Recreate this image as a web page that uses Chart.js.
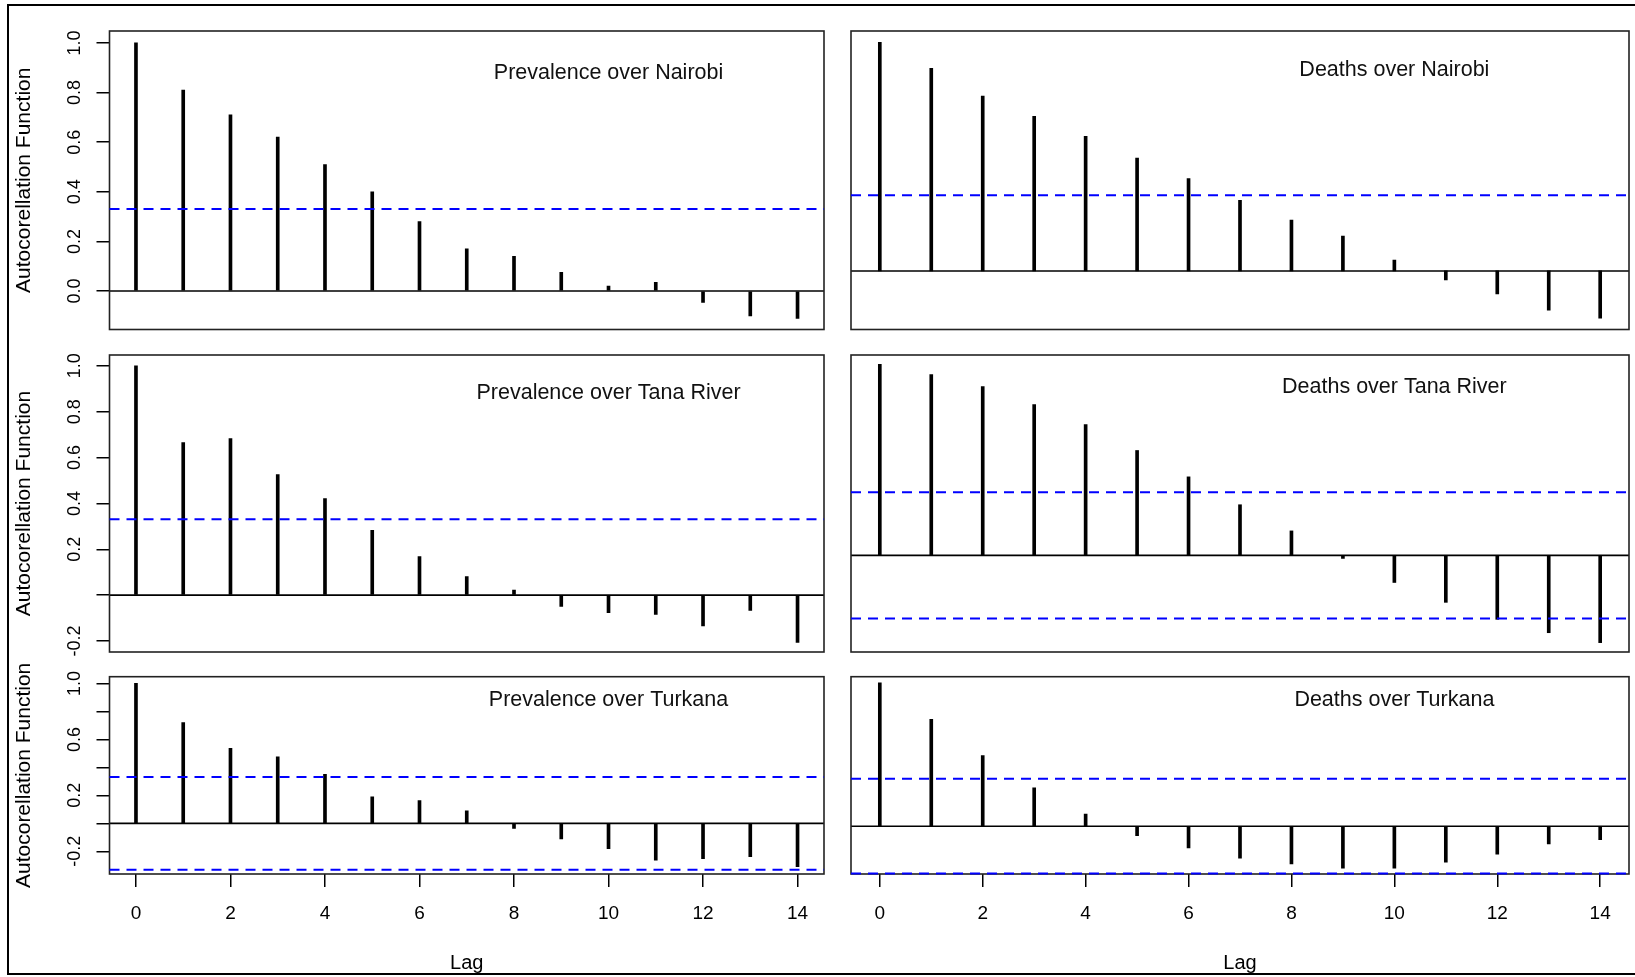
<!DOCTYPE html>
<html>
<head>
<meta charset="utf-8">
<title>ACF of prevalence and deaths</title>
<script src="https://cdn.jsdelivr.net/npm/chart.js@4.4.1/dist/chart.umd.min.js"></script>
<style>
  body { margin: 0; background: #fff; }
  #page { position: relative; width: 1635px; height: 977px; overflow: hidden; background: #fff; }
  #frame { position: absolute; left: 7px; top: 4px; width: 1700px; height: 967px; border: 2px solid #000; border-right: none; }
  canvas { position: absolute; }
</style>
</head>
<body>
<div id="page">
  <div id="frame"></div>
  <canvas id="prevNairobi" width="830" height="340" style="left:0;top:0"></canvas>
  <canvas id="deathsNairobi" width="805" height="340" style="left:830px;top:0"></canvas>
  <canvas id="prevTana" width="830" height="325" style="left:0;top:335px"></canvas>
  <canvas id="deathsTana" width="805" height="325" style="left:830px;top:335px"></canvas>
  <canvas id="prevTurkana" width="830" height="325" style="left:0;top:652px"></canvas>
  <canvas id="deathsTurkana" width="805" height="325" style="left:830px;top:652px"></canvas>
</div>
<script>
// lags and autocorrelations
const lags = [0, 1, 2, 3, 4, 5, 6, 7, 8, 9, 10, 11, 12, 13, 14];
const lagTicks = [0, 2, 4, 6, 8, 10, 12, 14];

const prevalenceNairobi = [1.0, 0.81, 0.71, 0.62, 0.51, 0.40, 0.28, 0.17, 0.14, 0.075, 0.02, 0.035, -0.046, -0.10, -0.11];
const deathsNairobi = [1.0, 0.886, 0.764, 0.676, 0.589, 0.493, 0.404, 0.309, 0.222, 0.152, 0.047, -0.039, -0.10, -0.171, -0.206];
const prevalenceTana = [1.0, 0.665, 0.683, 0.526, 0.421, 0.282, 0.168, 0.081, 0.022, -0.049, -0.076, -0.084, -0.134, -0.067, -0.206];
const deathsTana = [1.0, 0.947, 0.884, 0.789, 0.685, 0.549, 0.411, 0.265, 0.128, -0.016, -0.142, -0.246, -0.335, -0.405, -0.457];
const prevalenceTurkana = [1.0, 0.721, 0.536, 0.476, 0.35, 0.19, 0.162, 0.09, -0.036, -0.112, -0.181, -0.264, -0.252, -0.238, -0.31];
const deathsTurkana = [1.0, 0.745, 0.492, 0.267, 0.084, -0.066, -0.152, -0.222, -0.262, -0.293, -0.293, -0.251, -0.194, -0.124, -0.094];

// 95% band (1.96 / sqrt(n))
const ciLimit = 0.331;

const yTicksTop = [0, 0.2, 0.4, 0.6, 0.8, 1.0];
const yLabelsTop = ['0.0', '0.2', '0.4', '0.6', '0.8', '1.0'];
const yTicksMid = [-0.2, 0, 0.2, 0.4, 0.6, 0.8, 1.0];
const yLabelsMid = ['-0.2', '', '0.2', '0.4', '0.6', '0.8', '1.0'];
const yTicksBottom = [-0.2, 0, 0.2, 0.4, 0.6, 0.8, 1.0];
const yLabelsBottom = ['-0.2', '', '0.2', '', '0.6', '', '1.0'];

const FONT = "'Liberation Sans', Arial, sans-serif";
const titleLag = 10;
const titleLevel = 0.88;

// zero line, box, confidence band and the panel caption
const acfDecor = {
  id: 'acfDecor',
  afterDatasetsDraw(chart, args, opts) {
    const { ctx, chartArea: a, scales: { x, y } } = chart;
    ctx.save();
    ctx.strokeStyle = '#000';
    ctx.lineWidth = 1.6;
    const y0 = y.getPixelForValue(0);
    ctx.beginPath();
    ctx.moveTo(a.left, y0);
    ctx.lineTo(a.right, y0);
    ctx.stroke();

    ctx.strokeStyle = '#222';
    ctx.lineWidth = 1.6;
    ctx.strokeRect(a.left, a.top, a.right - a.left, a.bottom - a.top);

    ctx.strokeStyle = '#0000ff';
    ctx.lineWidth = 2;
    ctx.setLineDash([10, 7]);
    [opts.ci, -opts.ci].forEach(c => {
      if (c < y.min || c > y.max) return;
      const yc = Math.min(y.getPixelForValue(c), a.bottom - 0.5);
      ctx.beginPath();
      ctx.moveTo(a.left, yc);
      ctx.lineTo(a.right, yc);
      ctx.stroke();
    });
    ctx.setLineDash([]);

    ctx.fillStyle = '#111';
    ctx.font = '21.5px ' + FONT;
    ctx.textAlign = 'center';
    ctx.textBaseline = 'middle';
    ctx.fillText(opts.title, x.getPixelForValue(titleLag), y.getPixelForValue(titleLevel));
    ctx.restore();
  }
};

function makePanel(p) {
  const axisGrid = { offset: false, drawOnChartArea: false, drawTicks: true, tickLength: 13, color: '#000', lineWidth: 1.5 };
  new Chart(document.getElementById(p.id), {
    type: 'bar',
    data: {
      datasets: [{
        data: p.acf.map((v, i) => ({ x: lags[i], y: v })),
        backgroundColor: '#000',
        barThickness: 3,
      }],
    },
    options: {
      responsive: false,
      animation: false,
      devicePixelRatio: 1,
      layout: { padding: p.padding },
      plugins: {
        legend: { display: false },
        tooltip: { enabled: false },
        acfDecor: { title: p.title, ci: ciLimit },
      },
      scales: {
        x: {
          type: 'linear',
          min: -0.56,
          max: 14.56,
          offset: false,
          display: p.xAxis,
          afterBuildTicks: s => { s.ticks = lagTicks.map(v => ({ value: v })); },
          afterFit: s => {
            s.height = p.xAxis ? 103 : 0;
            s.paddingLeft = s.paddingRight = 0;
          },
          grid: axisGrid,
          border: { display: false },
          ticks: { autoSkip: false, maxRotation: 0, color: '#000', font: { family: FONT, size: 19 }, padding: 15 },
          title: { display: true, text: 'Lag', color: '#000', font: { family: FONT, size: 20 }, padding: { top: 0, bottom: 2 } },
        },
        y: {
          type: 'linear',
          min: p.yMin,
          max: p.yMax,
          display: p.yAxis,
          afterBuildTicks: s => { s.ticks = p.yTicks.map(v => ({ value: v })); },
          afterFit: s => {
            s.width = p.yAxis ? 109.5 : 0;
            s.paddingTop = s.paddingBottom = 0;
          },
          grid: axisGrid,
          border: { display: false },
          ticks: {
            autoSkip: false,
            minRotation: 90,
            maxRotation: 90,
            crossAlign: 'center',
            padding: p.yPad,
            color: '#000',
            font: { family: FONT, size: 18 },
            callback: v => p.yLabels[p.yTicks.indexOf(v)],
          },
          title: { display: true, text: 'Autocorellation Function', color: '#000', font: { family: FONT, size: 21 }, padding: { top: 12, bottom: 0 } },
        },
      },
    },
    plugins: [acfDecor],
  });
}

const leftPad = { left: 0, right: 6 };
const rightPad = { left: 21, right: 6 };

makePanel({ id: 'prevNairobi', title: 'Prevalence over Nairobi', acf: prevalenceNairobi, yMin: -0.155, yMax: 1.048,
  yTicks: yTicksTop, yLabels: yLabelsTop, yPad: 8.5, yAxis: true, xAxis: false,
  padding: { ...leftPad, top: 31, bottom: 10.5 } });
makePanel({ id: 'deathsNairobi', title: 'Deaths over Nairobi', acf: deathsNairobi, yMin: -0.256, yMax: 1.049,
  yTicks: yTicksTop, yLabels: yLabelsTop, yPad: 8.5, yAxis: false, xAxis: false,
  padding: { ...rightPad, top: 31, bottom: 10.5 } });
makePanel({ id: 'prevTana', title: 'Prevalence over Tana River', acf: prevalenceTana, yMin: -0.248, yMax: 1.047,
  yTicks: yTicksMid, yLabels: yLabelsMid, yPad: 5.5, yAxis: true, xAxis: false,
  padding: { ...leftPad, top: 20, bottom: 8 } });
makePanel({ id: 'deathsTana', title: 'Deaths over Tana River', acf: deathsTana, yMin: -0.506, yMax: 1.049,
  yTicks: yTicksMid, yLabels: yLabelsMid, yPad: 5.5, yAxis: false, xAxis: false,
  padding: { ...rightPad, top: 20, bottom: 8 } });
makePanel({ id: 'prevTurkana', title: 'Prevalence over Turkana', acf: prevalenceTurkana, yMin: -0.362, yMax: 1.048,
  yTicks: yTicksBottom, yLabels: yLabelsBottom, yPad: 5.5, yAxis: true, xAxis: true,
  padding: { ...leftPad, top: 24.7, bottom: 0 } });
makePanel({ id: 'deathsTurkana', title: 'Deaths over Turkana', acf: deathsTurkana, yMin: -0.333, yMax: 1.042,
  yTicks: yTicksBottom, yLabels: yLabelsBottom, yPad: 5.5, yAxis: false, xAxis: true,
  padding: { ...rightPad, top: 24.7, bottom: 0 } });
</script>
</body>
</html>
